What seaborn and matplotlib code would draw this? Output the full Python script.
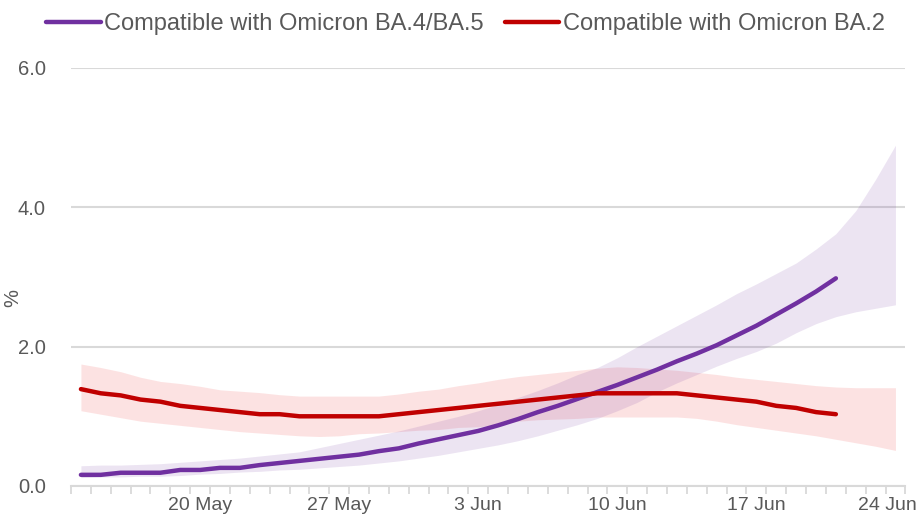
import pandas as pd
import matplotlib.pyplot as plt
import matplotlib.transforms as mtransforms
import seaborn as sns

sns.set_theme(style="white")
plt.rcParams['font.family'] = ['Liberation Sans', 'DejaVu Sans']

# ------------------ Data ------------------
dates = pd.date_range("2022-05-14", "2022-06-24", freq="D")

ba45_line = [0.16, 0.16, 0.19, 0.19, 0.19, 0.23, 0.23, 0.26, 0.26, 0.30,
             0.33, 0.36, 0.39, 0.42, 0.45, 0.50, 0.54, 0.61, 0.67, 0.73,
             0.79, 0.87, 0.96, 1.06, 1.15, 1.25, 1.35, 1.45, 1.56, 1.67,
             1.79, 1.90, 2.02, 2.16, 2.30, 2.46, 2.62, 2.79, 2.98]
ba45_low = [0.12, 0.13, 0.13, 0.14, 0.14, 0.15, 0.17, 0.18, 0.20, 0.21,
            0.23, 0.24, 0.26, 0.28, 0.30, 0.33, 0.36, 0.40, 0.44, 0.49,
            0.54, 0.59, 0.65, 0.72, 0.80, 0.88, 0.97, 1.08, 1.20, 1.35,
            1.48, 1.60, 1.72, 1.83, 1.93, 2.05, 2.20, 2.33, 2.43, 2.50,
            2.55, 2.60]
ba45_high = [0.29, 0.30, 0.30, 0.31, 0.32, 0.34, 0.36, 0.38, 0.40, 0.43,
             0.46, 0.49, 0.55, 0.61, 0.67, 0.73, 0.79, 0.86, 0.93, 1.00,
             1.08, 1.17, 1.27, 1.37, 1.48, 1.60, 1.70, 1.84, 2.00, 2.15,
             2.30, 2.45, 2.60, 2.76, 2.90, 3.05, 3.20, 3.40, 3.62, 3.95,
             4.40, 4.89]

ba2_line = [1.39, 1.33, 1.30, 1.24, 1.21, 1.15, 1.12, 1.09, 1.06, 1.03,
            1.03, 1.00, 1.00, 1.00, 1.00, 1.00, 1.03, 1.06, 1.09, 1.12,
            1.15, 1.18, 1.21, 1.24, 1.27, 1.30, 1.33, 1.33, 1.33, 1.33,
            1.33, 1.30, 1.27, 1.24, 1.21, 1.15, 1.12, 1.06, 1.03]
ba2_low = [1.08, 1.03, 0.98, 0.93, 0.90, 0.87, 0.84, 0.81, 0.78, 0.76,
           0.74, 0.72, 0.71, 0.72, 0.75, 0.76, 0.78, 0.80, 0.81, 0.84,
           0.85, 0.88, 0.93, 0.95, 0.96, 0.97, 0.99, 0.99, 0.99, 0.99,
           0.99, 0.97, 0.93, 0.88, 0.84, 0.80, 0.76, 0.72, 0.67, 0.62,
           0.57, 0.51]
ba2_high = [1.75, 1.70, 1.64, 1.56, 1.50, 1.47, 1.43, 1.38, 1.36, 1.34,
            1.31, 1.29, 1.29, 1.29, 1.29, 1.29, 1.32, 1.36, 1.39, 1.44,
            1.48, 1.53, 1.57, 1.60, 1.63, 1.66, 1.69, 1.71, 1.70, 1.68,
            1.66, 1.63, 1.60, 1.56, 1.53, 1.50, 1.47, 1.44, 1.42, 1.41,
            1.41, 1.41]

tick_dates = pd.to_datetime(["2022-05-20", "2022-05-27", "2022-06-03",
                             "2022-06-10", "2022-06-17", "2022-06-24"])
tick_labels = ["20 May", "27 May", "3 Jun", "10 Jun", "17 Jun", "24 Jun"]

purple = "#7030A0"
red = "#C00000"
grey_text = "#595959"
grey_line = "#D9D9D9"

# ------------------ Plot ------------------
fig = plt.figure(figsize=(9.22, 5.22), dpi=100)
ax = fig.add_axes([0.077, 0.069, 0.905, 0.801])

ax.fill_between(dates, ba2_low, ba2_high, color="#F8A0A0", alpha=0.3,
                linewidth=0, zorder=2)
ax.fill_between(dates, ba45_low, ba45_high, color=purple, alpha=0.13,
                linewidth=0, zorder=2)

sns.lineplot(x=dates[:len(ba45_line)], y=ba45_line, color=purple, lw=3.2,
             solid_capstyle="round", label="Compatible with Omicron BA.4/BA.5",
             ax=ax, zorder=3)
sns.lineplot(x=dates[:len(ba2_line)], y=ba2_line, color=red, lw=3.2,
             solid_capstyle="round", label="Compatible with Omicron BA.2",
             ax=ax, zorder=3)

half = pd.Timedelta(hours=12)
ax.set_xlim(dates[0] - half, dates[-1] + half)
ax.set_ylim(0, 6)
ax.set_yticks([0, 2, 4, 6])
ax.set_yticklabels(["0.0", "2.0", "4.0", "6.0"])
ax.yaxis.grid(True, color=grey_line, lw=1.5, zorder=0)
ax.set_axisbelow(True)

ax.set_xticks(tick_dates)
ax.set_xticklabels(tick_labels)
ax.set_xticks(list(dates - half) + [dates[-1] + half], minor=True)
ax.tick_params(axis="x", which="major", length=0, pad=8, labelsize=14,
               labelcolor=grey_text)
ax.tick_params(axis="x", which="minor", bottom=True, length=6, width=1.3,
               color=grey_line)
ax.tick_params(axis="y", length=0, pad=18, labelsize=14.5, labelcolor=grey_text)

# nudge the last date label so it stays inside the figure
last = ax.get_xticklabels()[-1]
last.set_transform(last.get_transform() +
                   mtransforms.ScaledTranslation(-6 / 72, 0, fig.dpi_scale_trans))

for side in ["top", "right", "left"]:
    ax.spines[side].set_visible(False)
ax.spines["bottom"].set_color(grey_line)
ax.spines["bottom"].set_linewidth(1.5)
ax.spines["bottom"].set_zorder(1)

ax.set_xlabel("")
ax.set_ylabel("%", fontsize=14.5, color=grey_text)
ax.yaxis.set_label_coords(-0.058, 0.45)

handles, labels = ax.get_legend_handles_labels()
ax.get_legend().remove()
fig.legend(handles, labels, loc="upper center", bbox_to_anchor=(0.505, 1.015),
           ncol=2, frameon=False, fontsize=17, labelcolor=grey_text,
           handlelength=2.3, handletextpad=0.15, columnspacing=0.9)

fig.savefig("out.png", dpi=100)
